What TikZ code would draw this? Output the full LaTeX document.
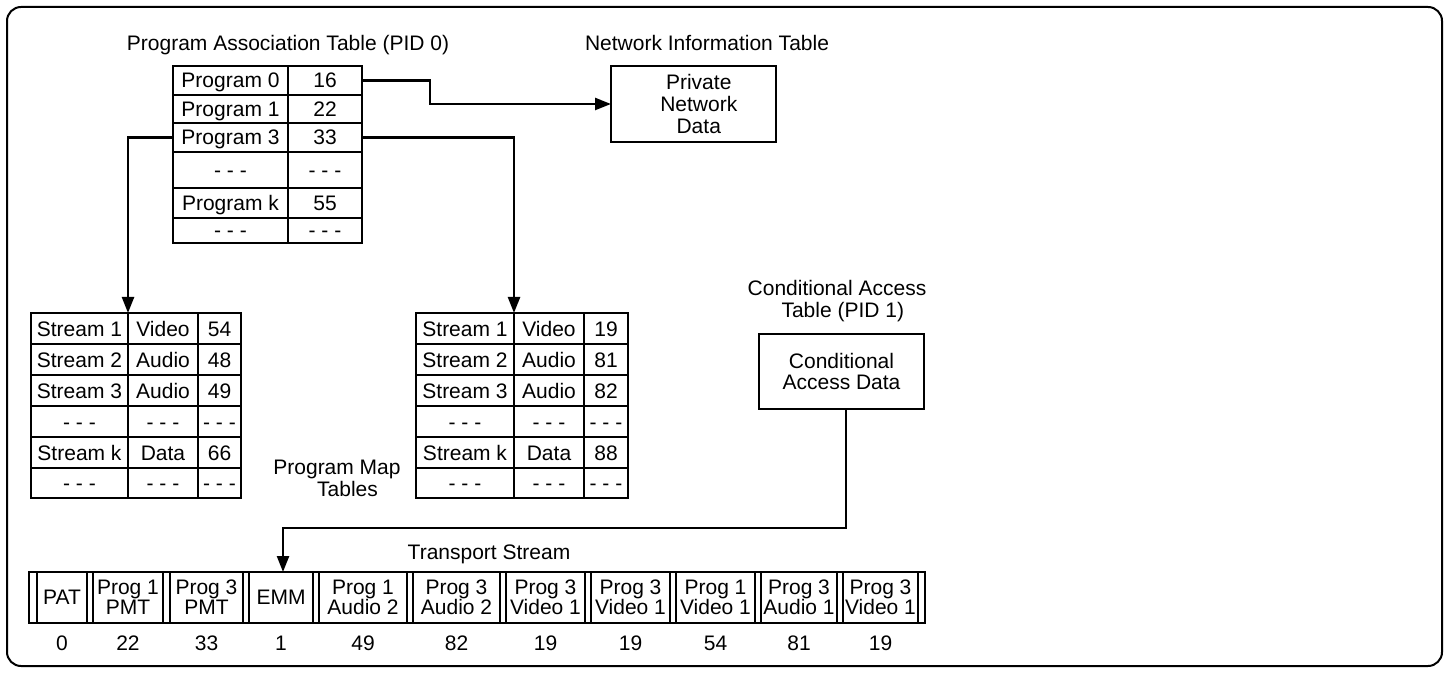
\documentclass[tikz,border=0pt]{standalone}
\usepackage{fontspec}
\setmainfont{Liberation Sans}
\usetikzlibrary{arrows.meta,calc}
\newcommand\dfont{\fontsize{10.5pt}{10.8pt}\selectfont}
\tikzset{
  cell/.style={draw, line width=1.2pt, inner sep=0pt, outer sep=0pt, text height=7.5pt, text depth=0pt, font=\dfont},
  box/.style={draw, line width=1.2pt, inner sep=0pt, outer sep=0pt, align=center, font=\dfont},
  packet/.style={draw, line width=1.2pt, inner sep=0pt, outer sep=0pt, align=center, minimum height=25.5pt, font=\fontsize{10.5pt}{10pt}\selectfont},
  lbl/.style={inner sep=0pt, align=center, font=\dfont},
  onelbl/.style={inner sep=0pt, text height=7.5pt, text depth=0pt, font=\dfont},
  conn/.style={line width=1.2pt, -{Triangle[length=8pt,width=6pt]}},
}
\newcommand\cellbox[6]{\node[cell, minimum width={(#4-#2)*0.5pt}, minimum height={(#5-#3)*0.5pt}] (#1) at ({(#2+#4)/2},{(#3+#5)/2}) {#6};}
\newcommand\pkt[5]{\node[packet, minimum width={(#3-#2)*0.5pt}] (p#1) at ({(#2+#3)/2},597.5) {#4};
  \node[onelbl] (n#1) at ({(#2+#3)/2},643) {#5};}
\begin{document}
\begin{tikzpicture}[x=0.5pt,y=-0.5pt]
\useasboundingbox (0,0) rectangle (1449,673);
\draw[line width=1pt, rounded corners=7pt] (7,7) rectangle (1442,666);

% titles
\node[onelbl] (pattitle) at (288,43) {Program Association Table (PID 0)};
\node[onelbl] (nittitle) at (707,43) {Network Information Table};
\node[lbl] (catitle) at (837,301) {Conditional Access\\\hspace*{0.55em}Table (PID 1)};
\node[lbl] (pmttitle) at (337,478.5) {Program Map\\\hspace*{1em}Tables};
\node[onelbl] (tstitle) at (489,552) {Transport Stream};

% PAT
\cellbox{pa11}{173}{66}{288}{95}{Program 0}
\cellbox{pa12}{288}{66}{362}{95}{16}
\cellbox{pa21}{173}{95}{288}{123}{Program 1}
\cellbox{pa22}{288}{95}{362}{123}{22}
\cellbox{pa31}{173}{123}{288}{152}{Program 3}
\cellbox{pa32}{288}{123}{362}{152}{33}
\cellbox{pa41}{173}{152}{288}{188}{- - -}
\cellbox{pa42}{288}{152}{362}{188}{- - -}
\cellbox{pa51}{173}{188}{288}{218}{Program k}
\cellbox{pa52}{288}{188}{362}{218}{55}
\cellbox{pa61}{173}{218}{288}{243}{- - -}
\cellbox{pa62}{288}{218}{362}{243}{- - -}

% NIT and CA boxes
\node[box, minimum width=82.5pt, minimum height=38pt] (nit) at (693.5,104) {\hspace*{0.5em}Private\\\hspace*{0.5em}Network\\\hspace*{0.5em}Data};
\node[box, minimum width=82.5pt, minimum height=37.5pt] (ca) at (841.5,371.5) {Conditional\\Access Data};

% left PMT
\cellbox{lp11}{31}{313}{128}{344}{Stream 1}
\cellbox{lp12}{128}{313}{198}{344}{Video}
\cellbox{lp13}{198}{313}{241}{344}{54}
\cellbox{lp21}{31}{344}{128}{375}{Stream 2}
\cellbox{lp22}{128}{344}{198}{375}{Audio}
\cellbox{lp23}{198}{344}{241}{375}{48}
\cellbox{lp31}{31}{375}{128}{406}{Stream 3}
\cellbox{lp32}{128}{375}{198}{406}{Audio}
\cellbox{lp33}{198}{375}{241}{406}{49}
\cellbox{lp41}{31}{406}{128}{437}{- - -}
\cellbox{lp42}{128}{406}{198}{437}{- - -}
\cellbox{lp43}{198}{406}{241}{437}{- - -}
\cellbox{lp51}{31}{437}{128}{468}{Stream k}
\cellbox{lp52}{128}{437}{198}{468}{Data}
\cellbox{lp53}{198}{437}{241}{468}{66}
\cellbox{lp61}{31}{468}{128}{498}{- - -}
\cellbox{lp62}{128}{468}{198}{498}{- - -}
\cellbox{lp63}{198}{468}{241}{498}{- - -}

% right PMT
\cellbox{rp11}{416}{313}{514}{344}{Stream 1}
\cellbox{rp12}{514}{313}{584}{344}{Video}
\cellbox{rp13}{584}{313}{628}{344}{19}
\cellbox{rp21}{416}{344}{514}{375}{Stream 2}
\cellbox{rp22}{514}{344}{584}{375}{Audio}
\cellbox{rp23}{584}{344}{628}{375}{81}
\cellbox{rp31}{416}{375}{514}{406}{Stream 3}
\cellbox{rp32}{514}{375}{584}{406}{Audio}
\cellbox{rp33}{584}{375}{628}{406}{82}
\cellbox{rp41}{416}{406}{514}{437}{- - -}
\cellbox{rp42}{514}{406}{584}{437}{- - -}
\cellbox{rp43}{584}{406}{628}{437}{- - -}
\cellbox{rp51}{416}{437}{514}{468}{Stream k}
\cellbox{rp52}{514}{437}{584}{468}{Data}
\cellbox{rp53}{584}{437}{628}{468}{88}
\cellbox{rp61}{416}{468}{514}{498}{- - -}
\cellbox{rp62}{514}{468}{584}{498}{- - -}
\cellbox{rp63}{584}{468}{628}{498}{- - -}

% transport stream
\node[draw, line width=1.2pt, inner sep=0pt, outer sep=0pt, minimum width=448pt, minimum height=25.5pt] (ts) at (477,597.5) {};
\pkt{1}{37}{87}{PAT}{0}
\pkt{2}{93}{163}{Prog 1\\PMT}{22}
\pkt{3}{170}{243}{Prog 3\\PMT}{33}
\pkt{4}{249}{313}{EMM}{1}
\pkt{5}{319}{407}{Prog 1\\Audio 2}{49}
\pkt{6}{413}{500}{Prog 3\\Audio 2}{82}
\pkt{7}{506}{585}{Prog 3\\Video 1}{19}
\pkt{8}{591}{670}{Prog 3\\Video 1}{19}
\pkt{9}{676}{755}{Prog 1\\Video 1}{54}
\pkt{10}{761}{837}{Prog 3\\Audio 1}{81}
\pkt{11}{843}{918}{Prog 3\\Video 1}{19}

% connectors
\draw[conn] (pa12.east) -- ++(68,0) |- (nit.west);
\draw[conn] (pa32.east) -| (rp12.north west);
\draw[conn] (pa31.west) -| (lp12.north west);
\coordinate (tsbend) at (283,528);
\draw[conn] ([xshift=2.2pt]ca.south) |- (tsbend) -- (tsbend |- ts.north);
\end{tikzpicture}
\end{document}
